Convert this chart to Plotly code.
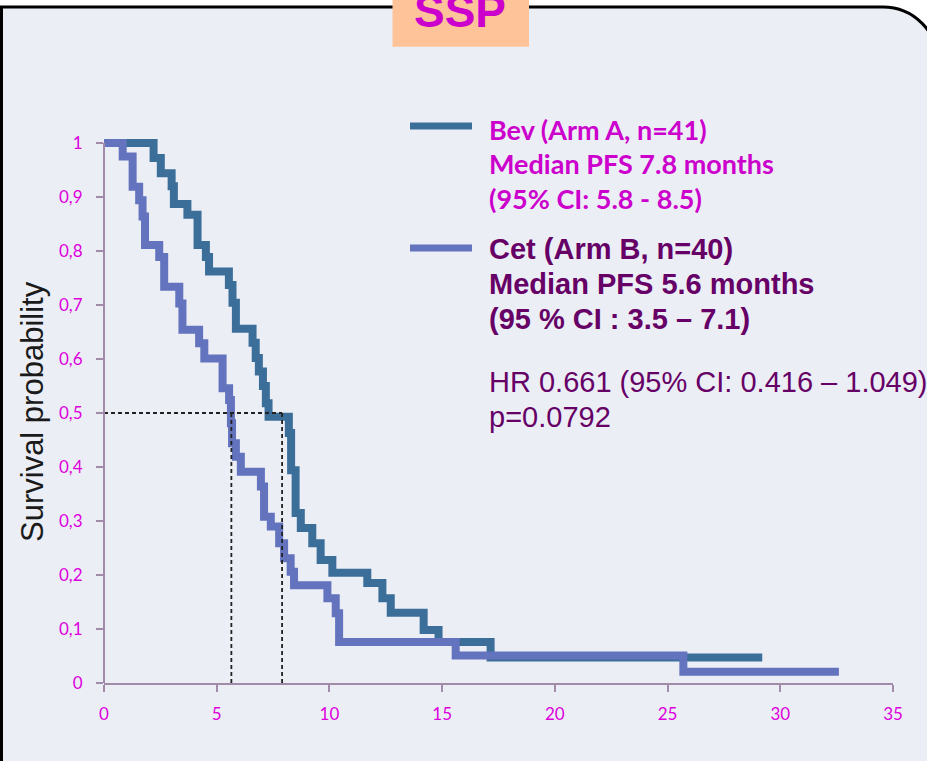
import plotly.graph_objects as go

# ---------------- data ----------------
bev_name = "Bev (Arm A, n=41)"
bev_lines = ["Bev (Arm A, n=41)", "Median PFS 7.8 months", "(95% CI: 5.8 - 8.5)"]
bev_time = [0, 2.2, 2.52, 3.0, 3.1, 3.7, 4.15, 4.52, 4.66, 5.54, 5.7, 5.85, 6.59, 6.73,
            6.87, 7.05, 7.18, 7.3, 8.2, 8.3, 8.5, 8.73, 9.24, 9.61, 10.13, 11.68, 12.35,
            12.72, 14.18, 14.84, 17.15, 29.2]
bev_surv = [1.0, 0.972, 0.944, 0.92, 0.887, 0.867, 0.811, 0.789, 0.762, 0.737, 0.704, 0.656,
            0.63, 0.602, 0.577, 0.55, 0.518, 0.493, 0.463, 0.394, 0.315, 0.287, 0.259, 0.228,
            0.204, 0.185, 0.157, 0.130, 0.098, 0.076, 0.047, 0.047]

cet_name = "Cet (Arm B, n=40)"
cet_lines = ["Cet (Arm B, n=40)", "Median PFS 5.6 months", "(95 % CI : 3.5 \u2013 7.1)"]
cet_time = [0, 0.83, 1.27, 1.56, 1.71, 1.82, 2.45, 2.67, 3.34, 3.48, 4.22, 4.45, 5.26, 5.55,
            5.63, 5.68, 5.85, 6.07, 6.96, 7.1, 7.4, 7.77, 7.99, 8.28, 8.43, 9.91, 10.28,
            10.43, 15.6, 25.7, 32.6]
cet_surv = [1.0, 0.975, 0.919, 0.894, 0.864, 0.811, 0.789, 0.734, 0.703, 0.654, 0.629, 0.601,
            0.546, 0.524, 0.481, 0.444, 0.419, 0.391, 0.364, 0.308, 0.29, 0.259, 0.231, 0.206,
            0.181, 0.157, 0.129, 0.076, 0.051, 0.021, 0.021]

medians = [5.65, 7.9]
median_level = 0.5

hr_lines = ["HR 0.661 (95% CI: 0.416 \u2013 1.049)", "p=0.0792"]
title_text = "SSP"
y_title = "Survival probability"

x_ticks = [0, 5, 10, 15, 20, 25, 30, 35]
y_ticks = [0, 0.1, 0.2, 0.3, 0.4, 0.5, 0.6, 0.7, 0.8, 0.9, 1.0]
y_ticktext = ["0", "0,1", "0,2", "0,3", "0,4", "0,5", "0,6", "0,7", "0,8", "0,9", "1"]

# ---------------- layout geometry ----------------
W, H = 927, 761
L, R, T, B = 104, 893, 110, 683
PW, PH = R - L, B - T
PX_PER_UNIT = 540.0


def pxx(px):
    return (px - L) / PW


def pxy(py):
    return (B - py) / PH


BG = "#ECEEF6"
BEV_C = "#3B6E99"
CET_C = "#6373BE"
AXIS_C = "#A28BA8"
TICK_C = "#DD00DD"
BEV_TXT = "#CC00CC"
CET_TXT = "#660066"

fig = go.Figure()

fig.add_trace(go.Scatter(x=bev_time, y=bev_surv, mode="lines", line_shape="hv",
                         line=dict(color=BEV_C, width=8), name=bev_name))
fig.add_trace(go.Scatter(x=cet_time, y=cet_surv, mode="lines", line_shape="hv",
                         line=dict(color=CET_C, width=8), name=cet_name))

# median dashed guides
fig.add_trace(go.Scatter(x=[0, max(medians)], y=[median_level, median_level], mode="lines",
                         line=dict(color="#222222", width=1.8, dash="4px,3px")))
for m in medians:
    fig.add_trace(go.Scatter(x=[m, m], y=[median_level, 0], mode="lines",
                             line=dict(color="#222222", width=1.8, dash="4px,3px")))

shapes = []
# frame with rounded top-right corner
k = 0.5523 * 55
frame_pts = (f"M {pxx(1.5)},{pxy(820)} L {pxx(1.5)},{pxy(7)} L {pxx(883)},{pxy(7)} "
             f"C {pxx(883 + k)},{pxy(7)} {pxx(938)},{pxy(62 - k)} {pxx(938)},{pxy(62)} "
             f"L {pxx(938)},{pxy(820)} Z")
shapes.append(dict(type="path", xref="paper", yref="paper", path=frame_pts,
                   fillcolor=BG, line=dict(color="black", width=3), layer="below"))
# SSP box
shapes.append(dict(type="rect", xref="paper", yref="paper", x0=pxx(392.5), x1=pxx(529),
                   y0=pxy(-5), y1=pxy(46.7), fillcolor="#FFC399", line=dict(width=0),
                   layer="below"))
# y axis line
shapes.append(dict(type="line", xref="paper", yref="y", x0=0, x1=0, y0=0, y1=1,
                   line=dict(color=AXIS_C, width=2)))
# legend line samples
shapes.append(dict(type="line", xref="paper", yref="paper", x0=pxx(410), x1=pxx(472),
                   y0=pxy(126), y1=pxy(126), line=dict(color=BEV_C, width=7)))
shapes.append(dict(type="line", xref="paper", yref="paper", x0=pxx(410), x1=pxx(472),
                   y0=pxy(248), y1=pxy(248), line=dict(color=CET_C, width=7)))

ann = []
ann.append(dict(text=f"<b>{title_text}</b>", xref="paper", yref="paper", x=pxx(460),
                y=pxy(10.8), xanchor="center", yanchor="middle", showarrow=False,
                font=dict(family="Liberation Sans, Arial", size=46, color=BEV_TXT)))

for txt, yc in zip(bev_lines, [129, 163, 198]):
    ann.append(dict(text=f"<b>{txt}</b>", xref="paper", yref="paper", x=pxx(487), y=pxy(yc),
                    xanchor="left", yanchor="middle", showarrow=False,
                    font=dict(family="Lato", size=27, color=BEV_TXT)))
for txt, yc in zip(cet_lines, [249, 284, 319]):
    ann.append(dict(text=f"<b>{txt}</b>", xref="paper", yref="paper", x=pxx(487), y=pxy(yc),
                    xanchor="left", yanchor="middle", showarrow=False,
                    font=dict(family="Liberation Sans, Arial", size=29, color=CET_TXT)))
for txt, yc in zip(hr_lines, [382, 417]):
    ann.append(dict(text=txt, xref="paper", yref="paper", x=pxx(487), y=pxy(yc),
                    xanchor="left", yanchor="middle", showarrow=False,
                    font=dict(family="Liberation Sans, Arial", size=29, color=CET_TXT)))

ann.append(dict(text=y_title, xref="paper", yref="paper", x=pxx(32), y=pxy(412),
                xanchor="center", yanchor="middle", showarrow=False, textangle=-90,
                font=dict(family="Liberation Sans, Arial", size=31, color="#1A1A1A")))

fig.update_layout(
    width=W, height=H,
    margin=dict(l=L, r=W - R, t=T, b=H - B, pad=0),
    paper_bgcolor="white", plot_bgcolor="rgba(0,0,0,0)",
    showlegend=False, shapes=shapes, annotations=ann,
    xaxis=dict(range=[0, 35], showgrid=False, zeroline=False, showline=True,
               linecolor=AXIS_C, linewidth=2, ticks="outside", ticklen=7, tickwidth=2,
               tickcolor=AXIS_C, tickvals=x_ticks, ticklabelstandoff=8,
               tickfont=dict(family="Lato", size=17, color=TICK_C)),
    yaxis=dict(range=[0, PH / PX_PER_UNIT], showgrid=False, zeroline=False, showline=False,
               ticks="outside", ticklen=7, tickwidth=2, tickcolor=AXIS_C,
               tickvals=y_ticks, ticktext=y_ticktext, ticklabelstandoff=10,
               tickfont=dict(family="Lato", size=17, color=TICK_C)),
)

fig.write_html("out.html", config={"displayModeBar": False},
               post_script="document.body.style.margin='0';document.body.style.overflow='hidden';")
